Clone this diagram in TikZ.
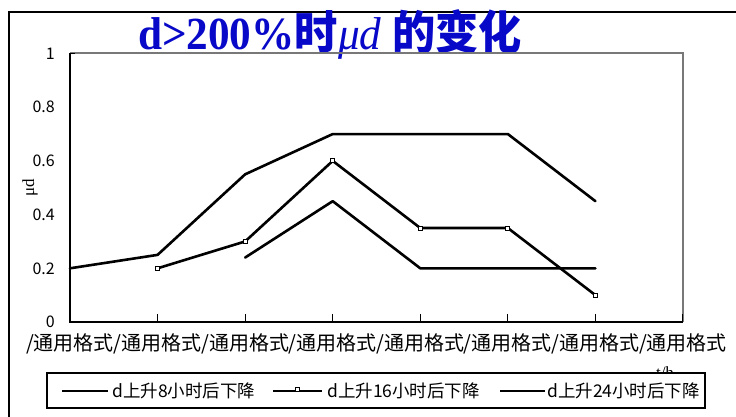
\documentclass[tikz,border=0pt]{standalone}
\usepackage{fontspec}
\usetikzlibrary{calc}
\setmainfont{Liberation Serif}
\newfontfamily\cjk{Noto Sans CJK SC}
\definecolor{titleblue}{RGB}{8,8,200}
\definecolor{framegray}{RGB}{120,120,120}
\begin{document}
\begin{tikzpicture}[x=1pt,y=-1pt,
  dataline/.style={line width=2.6pt, line join=round, line cap=round},
  axisline/.style={line width=1.6pt},
  tickmark/.style={line width=1pt},
  ticklab/.style={font=\cjk\fontsize{16}{16}\selectfont, inner sep=0pt},
  catlab/.style={font=\cjk\fontsize{20}{20}\selectfont, inner sep=0pt},
  legtext/.style={font=\cjk\fontsize{17.5}{17.5}\selectfont, inner sep=0pt, anchor=west},
  sqmark/.style={draw, line width=0.8pt, fill=white, minimum size=4pt, inner sep=0pt},
]
\useasboundingbox (0,0) rectangle (736,417);
\fill[white] (0,0) rectangle (736,417);
% outer frame
\coordinate (fA) at (9,417);
\coordinate (fB) at (9,12);
\coordinate (fC) at (736,12);
\draw[line width=1.6pt] (fA) -- (fB) -- (fC);
% title
\node[anchor=base, inner sep=0pt, text=titleblue] (title) at (330,50)
  {\scalebox{0.94}[1]{\fontsize{46}{46}\selectfont\bfseries d>200\%{\cjk 时}{\mdseries\itshape μd} {\cjk 的变化}}};
% plot area
\coordinate (pBL) at (70,322);
\coordinate (pTL) at (70,53);
\coordinate (pTR) at (683,53);
\coordinate (pBR) at (683,322);
\draw[axisline, framegray] (pTL) -- (pTR) -- (pBR);
\draw[axisline] (pTL) -- (pBL) -- (pBR);
% y ticks and labels
\foreach \v/\t in {0/0,0.2/0.2,0.4/0.4,0.6/0.6,0.8/0.8,1/1}{
  \coordinate (yt\t) at (70,{322-268.5*\v});
  \coordinate (yu\t) at (75,{322-268.5*\v});
  \draw[tickmark] (yt\t) -- (yu\t);
  \node[ticklab, anchor=east] (yl\t) at (55,{322-268.5*\v}) {\t};
}
% x ticks and labels
\foreach \i in {0,...,7}{
  \coordinate (xt\i) at ({70+87.57*\i},322);
  \coordinate (xu\i) at ({70+87.57*\i},314);
  \draw[tickmark] (xt\i) -- (xu\i);
  \node[catlab] (xl\i) at ({70+87.57*\i},344) {/通用格式};
}
% y axis title
\node[rotate=90, font=\fontsize{17}{17}\selectfont, inner sep=0pt] (ylab) at (30,188) {μd};
% x axis title (partly hidden by legend)
\begin{scope}
\clip (600,360) rectangle (720,373);
\node[font=\fontsize{17}{17}\selectfont, inner sep=0pt] (xlab) at (665,373) {t/h};
\end{scope}
% data points
\foreach \n/\i/\v in {a0/0/0.2,a1/1/0.25,a2/2/0.55,a3/3/0.7,a4/4/0.7,a5/5/0.7,a6/6/0.45,
                      b1/1/0.2,b2/2/0.3,b3/3/0.6,b4/4/0.35,b5/5/0.35,b6/6/0.1,
                      c2/2/0.24,c3/3/0.45,c4/4/0.2,c5/5/0.2,c6/6/0.2}{
  \coordinate (\n) at ({70+87.57*\i},{322-268.5*\v});
}
\draw[dataline] (a0) -- (a1) -- (a2) -- (a3) -- (a4) -- (a5) -- (a6);
\draw[dataline] (b1) -- (b2) -- (b3) -- (b4) -- (b5) -- (b6);
\draw[dataline] (c2) -- (c3) -- (c4) -- (c5) -- (c6);
\foreach \n in {b1,b2,b3,b4,b5,b6}{
  \node[sqmark] (m\n) at (\n) {};
}
% legend
\node[draw, fill=white, line width=1.3pt, minimum width=658pt, minimum height=35pt, inner sep=0pt] (leg) at (376,390.5) {};
\coordinate (l1a) at (62,391);  \coordinate (l1b) at (108,391);
\coordinate (l2a) at (273,391); \coordinate (l2b) at (322,391);
\coordinate (l3a) at (500,391); \coordinate (l3b) at (545,391);
\draw[dataline, line cap=butt] (l1a) -- (l1b);
\draw[dataline, line cap=butt] (l2a) -- (l2b);
\draw[dataline, line cap=butt] (l3a) -- (l3b);
\node[sqmark] (l2m) at ($(l2a)!0.5!(l2b)+(0,-2)$) {};
\node[legtext] (lt1) at (112,391) {d上升8小时后下降};
\node[legtext] (lt2) at (327,391) {d上升16小时后下降};
\node[legtext] (lt3) at (547,391) {d上升24小时后下降};
\end{tikzpicture}
\end{document}
